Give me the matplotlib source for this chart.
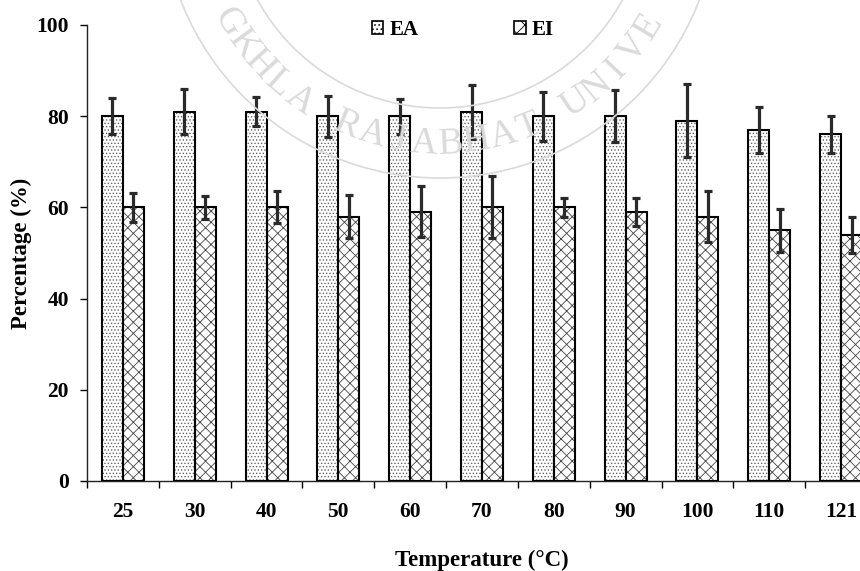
import numpy as np
import matplotlib.pyplot as plt
from matplotlib.patches import Patch, Circle

# Emulsifying activity (EA) and emulsion stability index (EI) vs. heating temperature
temperatures = ['25', '30', '40', '50', '60', '70', '80', '90', '100', '110', '121']
ea_values = [80, 81, 81, 80, 80, 81, 80, 80, 79, 77, 76]
ea_errors = [4.0, 5.0, 3.2, 4.5, 3.8, 5.9, 5.4, 5.7, 8.0, 5.0, 4.0]
ei_values = [60, 60, 60, 58, 59, 60, 60, 59, 58, 55, 54]
ei_errors = [3.2, 2.5, 3.5, 4.7, 5.6, 6.8, 2.0, 3.1, 5.6, 4.7, 3.9]

plt.rcParams['font.family'] = ['Liberation Serif', 'DejaVu Serif']
plt.rcParams['font.weight'] = 'bold'
plt.rcParams['hatch.linewidth'] = 0.6

W, H = 8.6, 5.71
fig = plt.figure(figsize=(W, H), dpi=100)

# faint institutional seal in the background
seal_color = '#dadada'
cx, cy = 4.40, H + 1.00  # inches, seal centre above the top edge
for r in (2.08, 2.78):
    fig.patches.append(Circle((cx, cy), r, transform=fig.dpi_scale_trans,
                              fill=False, edgecolor=seal_color, lw=1.2, zorder=0))
seal_text = 'SONGKHLA RAJABHAT UNIVERSITY'
r_text = 2.44
for i, ch in enumerate(seal_text):
    th = np.deg2rad(-60 + (i - 3) * 6.25)
    x = cx + r_text * np.sin(th)
    y = cy - r_text * np.cos(th)
    if y > H - 0.18:
        continue  # letters lying above the top edge
    fig.text(x, y, ch, transform=fig.dpi_scale_trans, rotation=np.rad2deg(th),
             ha='center', va='center', rotation_mode='anchor',
             fontsize=27, fontweight='normal', color=seal_color, zorder=0)

ax = fig.add_axes([87 / 860, 90 / 571, 790 / 860, 456 / 571])
ax.patch.set_alpha(0)

x = np.arange(len(temperatures))
w = 0.292

ea_pos = x - w / 2
ei_pos = x + w / 2

# hatch layers (grey pattern) then black outlines
ax.bar(ea_pos, ea_values, w, facecolor='white', edgecolor='#666666',
       hatch='.....', linewidth=0, zorder=2)
ax.bar(ei_pos, ei_values, w, facecolor='white', edgecolor='#444444',
       hatch='xxx', linewidth=0, zorder=2)
ax.bar(ea_pos, ea_values, w, facecolor='none', edgecolor='black', linewidth=1.5, zorder=3)
ax.bar(ei_pos, ei_values, w, facecolor='none', edgecolor='black', linewidth=1.5, zorder=3)

err_kw = dict(fmt='none', ecolor='#2a2a2a', elinewidth=2.3, capsize=3, capthick=2.3, zorder=4)
ax.errorbar(ea_pos, ea_values, yerr=ea_errors, **err_kw)
ax.errorbar(ei_pos, ei_values, yerr=ei_errors, **err_kw)

ax.set_xlim(-0.5, len(temperatures) - 0.5)
ax.set_ylim(0, 100)
ax.set_yticks([0, 20, 40, 60, 80, 100])
ax.tick_params(axis='y', direction='out', length=5, width=1, pad=8, labelsize=15.5)

ax.set_xticks(np.arange(len(temperatures) + 1) - 0.5)
ax.set_xticklabels([])
ax.set_xticks(x, minor=True)
ax.set_xticklabels(temperatures, minor=True)
ax.tick_params(axis='x', which='major', direction='out', length=5, width=1)
ax.tick_params(axis='x', which='minor', length=0, pad=15, labelsize=15.5)

for s in ('top', 'right'):
    ax.spines[s].set_visible(False)
for s in ('left', 'bottom'):
    ax.spines[s].set_linewidth(1.0)
    ax.spines[s].set_color('#222222')

fig.text(482 / 860, 1 - 560 / 571, 'Temperature (°C)', ha='center', va='center',
         fontsize=16.5, fontweight='bold')
fig.text(21 / 860, 1 - 253 / 571, 'Percentage (%)', ha='center', va='center',
         rotation=90, fontsize=16.5, fontweight='bold')

handles = [Patch(facecolor='white', edgecolor='black', hatch='....', linewidth=1.2, label='EA'),
           Patch(facecolor='white', edgecolor='black', hatch='xx', linewidth=1.2, label='EI')]
fig.legend(handles=handles, loc='center', bbox_to_anchor=(463 / 860, 1 - 30 / 571),
           ncol=2, frameon=False, fontsize=15, handlelength=0.55, handleheight=0.55,
           handletextpad=0.3, columnspacing=4.6)

fig.savefig('out.png', dpi=100)
